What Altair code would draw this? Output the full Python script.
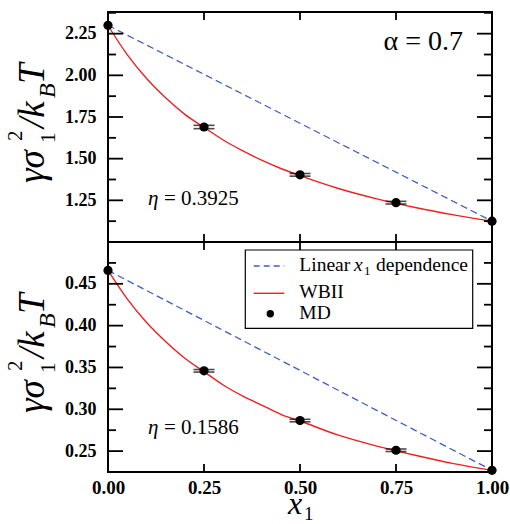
import altair as alt
import pandas as pd

# ---------------- data ----------------
md_x = [0.0, 0.25, 0.5, 0.75, 1.0]
md_top = [2.300, 1.690, 1.403, 1.236, 1.125]
md_top_err = [0.0, 0.010, 0.008, 0.008, 0.0]
md_bot = [0.466, 0.346, 0.2865, 0.251, 0.227]
md_bot_err = [0.0, 0.0015, 0.0015, 0.0015, 0.0]

curve_x = [0.0, 0.05, 0.1, 0.15, 0.2, 0.25, 0.3, 0.35, 0.4, 0.45, 0.5, 0.6, 0.7, 0.8, 0.9, 1.0]
wbii_top = [2.299, 2.124, 1.982, 1.865, 1.766, 1.688, 1.612, 1.548, 1.491, 1.441, 1.398, 1.321, 1.259, 1.207, 1.163, 1.125]
wbii_bot = [0.466, 0.432, 0.404, 0.381, 0.361, 0.345, 0.329, 0.316, 0.305, 0.294, 0.286, 0.269, 0.256, 0.245, 0.235, 0.227]

lin_x = [0.0, 1.0]
lin_top = [2.300, 1.125]
lin_bot = [0.466, 0.227]

x_tick_labels = [0.0, 0.25, 0.5, 0.75, 1.0]
x_inner_ticks = [0.25, 0.5, 0.75]
top_major = [1.25, 1.5, 1.75, 2.0, 2.25]
top_minor = [1.125, 1.375, 1.625, 1.875, 2.125, 2.375]
bot_major = [0.25, 0.30, 0.35, 0.40, 0.45]
bot_minor = [0.275, 0.325, 0.375, 0.425, 0.475]

# ---------------- style ----------------
W, H = 384, 230
FONT = "Liberation Serif"
BLUE = "#3f5fc4"
RED = "#f02020"


def label(txt, x, y, size, italic=False, align="left", angle=0):
    props = dict(font=FONT, fontSize=size, align=align, baseline="alphabetic", color="black")
    if italic:
        props["fontStyle"] = "italic"
    if angle:
        props["angle"] = angle
    return alt.Chart(pd.DataFrame({"t": [txt]})).mark_text(**props).encode(
        text="t:N", x=alt.value(x), y=alt.value(y))


def ytitle():
    return [
        label("γσ", -64, 171, 37, italic=True, angle=270),
        label("1", -53, 131, 21, angle=270),
        label("2", -86, 129, 21, angle=270),
        label("/k", -64, 116, 37, italic=True, angle=270),
        label("B", -53, 86, 24, italic=True, angle=270),
        label("T", -64, 72, 37, italic=True, angle=270),
    ]


def panel(top):
    ydom = [1.0, 2.38] if top else [0.225, 0.5]
    yvals = md_top if top else md_bot
    yerr = md_top_err if top else md_bot_err
    wbii = wbii_top if top else wbii_bot
    lin = lin_top if top else lin_bot
    major = top_major if top else bot_major
    minor = top_minor if top else bot_minor

    xs = alt.Scale(domain=[0, 1], nice=False, zero=False)
    ys = alt.Scale(domain=ydom, nice=False, zero=False)
    if top:
        xaxis = None
    else:
        xaxis = alt.Axis(values=x_tick_labels, format=".2f", title=None, grid=False, domain=False,
                         ticks=False, tickSize=0, labelFont=FONT, labelFontWeight="bold",
                         labelFontSize=19, labelPadding=6, labelColor="black",
                         labelFlush=False, labelOverlap=False, labelBound=False)
    yaxis = alt.Axis(values=major, format=".2f", title=None, grid=False, domain=False,
                     ticks=False, tickSize=0, labelFont=FONT, labelFontWeight="bold",
                     labelFontSize=18, labelPadding=12, labelColor="black",
                     labelFlush=False, labelOverlap=False, labelBound=False)

    X = alt.X("x:Q", scale=xs, axis=xaxis)
    Y = alt.Y("y:Q", scale=ys, axis=yaxis)

    df_curve = pd.DataFrame({"x": curve_x, "y": wbii})
    df_lin = pd.DataFrame({"x": lin_x, "y": lin})
    df_md = pd.DataFrame({"x": md_x, "y": yvals, "e": yerr})
    df_md["lo"] = df_md["y"] - df_md["e"]
    df_md["hi"] = df_md["y"] + df_md["e"]
    df_err = df_md[df_md["e"] > 0]
    df_caps = pd.DataFrame({"x": list(df_err["x"]) * 2,
                            "y": list(df_err["lo"]) + list(df_err["hi"])})

    layers = []
    layers.append(alt.Chart(df_lin).mark_line(color=BLUE, strokeWidth=1.3, strokeDash=[7, 4]).encode(x=X, y=Y))
    layers.append(alt.Chart(df_curve).mark_line(color=RED, strokeWidth=1.4, interpolate="monotone").encode(x=X, y=Y))
    layers.append(alt.Chart(df_err).mark_rule(color="black", strokeWidth=1.5).encode(
        x=X, y=alt.Y("lo:Q", scale=ys, axis=yaxis), y2="hi:Q"))
    layers.append(alt.Chart(df_caps).mark_tick(color="black", orient="horizontal", size=21, thickness=1.6).encode(x=X, y=Y))
    layers.append(alt.Chart(df_md).mark_point(filled=True, color="black", opacity=1, size=85).encode(x=X, y=Y))

    # inward ticks
    df_maj = pd.DataFrame({"y": major})
    df_min = pd.DataFrame({"y": minor})
    df_xt = pd.DataFrame({"x": x_inner_ticks})
    tk = dict(color="black", strokeWidth=1.8)
    layers.append(alt.Chart(df_maj).mark_rule(**tk).encode(y=Y, x=alt.value(0), x2=alt.value(15)))
    layers.append(alt.Chart(df_maj).mark_rule(**tk).encode(y=Y, x=alt.value(W - 15), x2=alt.value(W)))
    layers.append(alt.Chart(df_min).mark_rule(**tk).encode(y=Y, x=alt.value(0), x2=alt.value(8)))
    layers.append(alt.Chart(df_min).mark_rule(**tk).encode(y=Y, x=alt.value(W - 8), x2=alt.value(W)))
    layers.append(alt.Chart(df_xt).mark_rule(**tk).encode(x=X, y=alt.value(0), y2=alt.value(8)))
    layers.append(alt.Chart(df_xt).mark_rule(**tk).encode(x=X, y=alt.value(H - 8), y2=alt.value(H)))

    layers += ytitle()

    if top:
        layers.append(label("α = 0.7", 355, 38, 28, align="right"))
        layers.append(label("η", 40, 193, 21, italic=True))
        layers.append(label("= 0.3925", 56, 193, 21))
        # invisible anchor fixing the top-left corner of the page
        layers.append(alt.Chart(pd.DataFrame({"a": [0]})).mark_rule(opacity=0, strokeWidth=0.01).encode(
            x=alt.value(-107), x2=alt.value(-100), y=alt.value(-11)))
    else:
        layers.append(label("η", 40, 192, 21, italic=True))
        layers.append(label("= 0.1586", 56, 192, 21))
        # legend
        one = pd.DataFrame({"a": [0]})
        layers.append(alt.Chart(one).mark_rect(fill="white", stroke="black", strokeWidth=1.2).encode(
            x=alt.value(137.3), x2=alt.value(364.7), y=alt.value(8), y2=alt.value(86.3)))
        layers.append(alt.Chart(one).mark_rule(color=BLUE, strokeWidth=1.3, strokeDash=[6, 4]).encode(
            x=alt.value(145.7), x2=alt.value(176.3), y=alt.value(24)))
        layers.append(alt.Chart(one).mark_rule(color=RED, strokeWidth=1.4).encode(
            x=alt.value(145.7), x2=alt.value(176.3), y=alt.value(51.3)))
        layers.append(alt.Chart(one).mark_point(filled=True, color="black", opacity=1, size=55).encode(
            x=alt.value(162.3), y=alt.value(71.7)))
        layers.append(label("Linear", 191.3, 29, 19.5))
        layers.append(label("x", 246, 29, 19.5, italic=True))
        layers.append(label("1", 256, 33, 13))
        layers.append(label("dependence", 268, 29, 19.5))
        layers.append(label("WBII", 191.3, 56, 19.5))
        layers.append(label("MD", 191.3, 77, 19.5))
        # x axis title
        layers.append(label("x", 180, 272, 32, italic=True))
        layers.append(label("1", 196, 278, 19))

    return alt.layer(*layers).properties(width=W, height=H)


chart = alt.vconcat(panel(True), panel(False), spacing=0, bounds="flush").properties(
    padding={"left": 0, "top": 0, "right": 0, "bottom": 0},
    background="white",
).configure_view(stroke="black", strokeWidth=2)

chart.save("out.html", embed_options={"renderer": "svg", "actions": False})
